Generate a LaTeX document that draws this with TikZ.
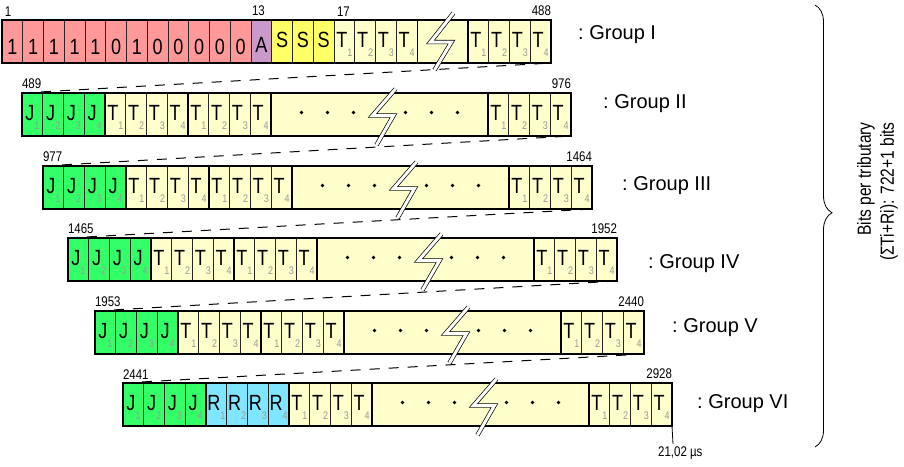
\documentclass[tikz,border=0pt]{standalone}
\usepackage{fontspec}
\setmainfont{Liberation Sans}
\newfontfamily\narrowsans[FakeStretch=0.82]{Liberation Sans}
\usetikzlibrary{decorations.pathreplacing}
\pgfdeclarelayer{bg}
\pgfsetlayers{bg,main}
\definecolor{bitred}{HTML}{FF9999}
\definecolor{apurple}{HTML}{CC99CC}
\definecolor{syellow}{HTML}{FFFF66}
\definecolor{tyellow}{HTML}{FFFFCC}
\definecolor{jgreen}{HTML}{33FF66}
\definecolor{rcyan}{HTML}{80E5FF}
\definecolor{subgray}{HTML}{9A9A9A}
\newcommand\tsubs[1]{\raisebox{-9pt}{\color{subgray}\fontsize{11}{11}\selectfont #1}}
\newcommand\lowtxt[2]{\raisebox{-#1}{#2}}
\def\cw{20.75}
\def\bigw{217}
\tikzset{
  cell/.style={draw=black!85, line width=0.6pt, minimum width=20.75pt, minimum height=43pt,
    inner sep=0pt, outer sep=0pt, anchor=north west,
    font=\narrowsans\fontsize{22}{22}\selectfont, text height=16pt, text depth=4pt},
  jcell/.style={fill=jgreen},
  tcell/.style={fill=tyellow},
  rcell/.style={fill=rcyan},
  bigbox/.style={draw=black, line width=0.6pt, fill=tyellow, minimum width=\bigw pt,
    minimum height=43pt, inner sep=0pt, outer sep=0pt, anchor=north west},
  blockline/.style={draw=black, line width=1.4pt},
  outerline/.style={draw=black, line width=1.9pt},
  numlabel/.style={inner sep=0pt, outer sep=0pt, yshift=4pt,
    font=\narrowsans\fontsize{14}{14}\selectfont},
  grouplabel/.style={anchor=west, inner sep=0pt, font=\fontsize{20}{24}\selectfont},
  dashline/.style={draw=black, line width=1pt, dash pattern=on 10pt off 9pt},
  boltline/.style={draw=black, line width=0.7pt, double=white, double distance=3pt,
    line join=miter, miter limit=4},
}
% #1 name, #2 left, #3 top, #4 block-2 style, #5 block-2 letter, #6 left number, #7 right number
\newcommand\grouprow[7]{%
  \foreach \i in {1,...,4}{
    \node[cell,jcell] (#1j\i) at ({#2+(\i-1)*\cw},#3) {J\tsubs{\i}};
    \node[cell,#4] (#1b\i) at ({#2+(\i+3)*\cw},#3) {#5\tsubs{\i}};
    \node[cell,tcell] (#1c\i) at ({#2+(\i+7)*\cw},#3) {T\tsubs{\i}};
    \node[cell,tcell] (#1e\i) at ({#2+11*\cw+\bigw+\i*\cw},#3) {T\tsubs{\i}};
  }
  \node[bigbox] (#1big) at ({#2+12*\cw},#3) {};
  \draw[blockline] (#1j1.north west) rectangle (#1j4.south east);
  \draw[blockline] (#1b1.north west) rectangle (#1b4.south east);
  \draw[blockline] (#1c1.north west) rectangle (#1c4.south east);
  \draw[blockline] (#1e1.north west) rectangle (#1e4.south east);
  \draw[outerline] (#1j1.north west) rectangle (#1e4.south east);
  \node[numlabel, anchor=south west] (#1ln) at (#1j1.north west) {#6};
  \node[numlabel, anchor=south east] (#1rn) at (#1e4.north east) {#7};
  \foreach \d in {-78,-52,-26,26,52,78}{
    \fill[black] ([shift={(\d,-2)}]#1big.center) circle (1.8pt);
  }
  \draw[boltline] ([shift={(16,-25.5)}]#1big.center) -- ([shift={(-7,1)}]#1big.center)
     -- ([shift={(14,1)}]#1big.center) -- ([shift={(-3,30.5)}]#1big.center);
}
\begin{document}
\begin{tikzpicture}[x=1pt,y=-1pt]
\useasboundingbox (0,0) rectangle (904,466);
\begin{pgfonlayer}{bg}
  \fill[white] (0,0) rectangle (904,466);
\end{pgfonlayer}

% ---------- Group I ----------
\foreach \b [count=\i] in {1,1,1,1,1,0,1,0,0,0,0,0}{
  \node[cell,fill=bitred] (r1p\i) at ({2+(\i-1)*\cw},20) {\lowtxt{7pt}{\b}};
}
\node[cell,fill=apurple] (r1a) at ({2+12*\cw},20) {\lowtxt{5pt}{A}};
\foreach \i in {1,2,3}{
  \node[cell,fill=syellow] (r1s\i) at ({2+(12+\i)*\cw},20) {S};
}
\foreach \i in {1,...,4}{
  \node[cell,tcell] (r1c\i) at ({2+(15+\i)*\cw},20) {T\tsubs{\i}};
  \node[cell,tcell] (r1e\i) at ({2+(19+\i)*\cw+51},20) {T\tsubs{\i}};
}
\node[bigbox, minimum width=51pt] (r1big) at ({2+20*\cw},20) {};
\draw[blockline] (r1e1.north west) rectangle (r1e4.south east);
\draw[outerline] (r1p1.north west) rectangle (r1e4.south east);
\node[numlabel, anchor=south west, xshift=3pt] (r1n1) at (r1p1.north west) {1};
\node[numlabel, anchor=south west, xshift=1pt] (r1n13) at (r1a.north west) {13};
\node[numlabel, anchor=south west, xshift=3pt] (r1n17) at (r1c1.north west) {17};
\node[numlabel, anchor=south east] (r1rn) at (r1e4.north east) {488};
\draw[boltline] ([shift={(11,-28.5)}]r1big.center) -- ([shift={(-12,0.5)}]r1big.center)
   -- ([shift={(9,0.5)}]r1big.center) -- ([shift={(-8,28.5)}]r1big.center);

% ---------- Groups II - VI ----------
\grouprow{r2}{22}{93}{tcell}{T}{489}{976}
\grouprow{r3}{43}{166}{tcell}{T}{977}{1464}
\grouprow{r4}{68}{238}{tcell}{T}{1465}{1952}
\grouprow{r5}{95}{311}{tcell}{T}{1953}{2440}
\grouprow{r6}{123}{383}{rcell}{R}{2441}{2928}

% group labels
\node[grouplabel] (g1) at (578,35) {:\ Group I};
\node[grouplabel] (g2) at (603,104) {:\ Group II};
\node[grouplabel] (g3) at (622,186) {:\ Group III};
\node[grouplabel] (g4) at (648,264) {:\ Group IV};
\node[grouplabel] (g5) at (672,328) {:\ Group V};
\node[grouplabel] (g6) at (697,404) {:\ Group VI};

% expansion dashed lines
\begin{pgfonlayer}{bg}
  \draw[dashline] (r2j1.north west) -- (r1e4.south east);
  \draw[dashline] (r3j1.north west) -- (r2e4.south east);
  \draw[dashline] (r4j1.north west) -- (r3e4.south east);
  \draw[dashline] (r5j1.north west) -- (r4e4.south east);
  \draw[dashline] (r6j1.north west) -- (r5e4.south east);
\end{pgfonlayer}

% time tick
\coordinate (tick) at (673,444);
\draw[line width=0.8pt] (r6e4.south east) -- (tick);
\node[anchor=north west, inner sep=0pt, font=\narrowsans\fontsize{14}{14}\selectfont]
  (time) at (658,447) {21,02 µs};

% brace and note
\coordinate (bt) at (815,5);
\coordinate (bb) at (815,447);
\draw[line width=0.8pt, decorate, decoration={brace, amplitude=17pt, aspect=0.47}] (bt) -- (bb);
\node[rotate=90, anchor=east, align=right, inner sep=0pt,
  font=\narrowsans\fontsize{19}{23}\selectfont] (note) at (877.5,122)
  {Bits per tributary\\(ΣTi+Ri): 722+1 bits};
\end{tikzpicture}
\end{document}
